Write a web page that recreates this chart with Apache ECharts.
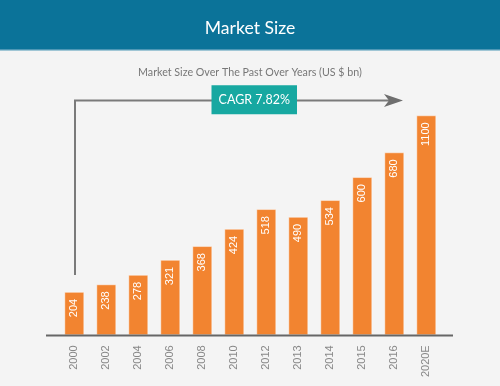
<!DOCTYPE html>
<html>
<head>
<meta charset="utf-8">
<script src="https://cdn.jsdelivr.net/npm/echarts@6/dist/echarts.min.js"></script>
<style>
html,body{margin:0;padding:0;background:#f4f4f4;}
#chart{width:500px;height:386px;}
</style>
</head>
<body>
<div id="chart"></div>
<script>
// Data
const categories = ['2000','2002','2004','2006','2008','2010','2012','2013','2014','2015','2016','2020E'];
const marketSize = [204, 238, 278, 321, 368, 424, 518, 490, 534, 600, 680, 1100];
// The reference draws its bars not to scale; these are the bar heights as drawn (same units as the labels, approx.)
const drawnHeights = [174, 204, 242, 302, 357, 426, 505, 474, 541, 633, 732, 880];
const titleText = 'Market Size';
const subtitleText = 'Market Size Over The Past Over Years (US $ bn)';
const cagrText = 'CAGR 7.82%';

const chart = echarts.init(document.getElementById('chart'), null, {renderer: 'canvas'});
const FONT = 'Lato';

chart.setOption({
  backgroundColor: '#f4f4f4',
  animation: false,
  title: [
    {text: titleText, left: 'center', top: 14,
     textStyle: {color: '#ffffff', fontSize: 17.6, fontWeight: 'normal', fontFamily: FONT}},
    {text: subtitleText, left: 'center', top: 62,
     textStyle: {color: '#777777', fontSize: 10.7, fontWeight: 'normal', fontFamily: FONT}}
  ],
  grid: {left: 58.3, right: 57.7, top: 85.3, bottom: 50.7},
  xAxis: {
    type: 'category',
    data: categories,
    axisLine: {show: false},
    axisTick: {show: false},
    axisLabel: {rotate: 90, margin: 10, color: '#888888', fontSize: 11, fontFamily: 'Liberation Sans'}
  },
  yAxis: {type: 'value', min: 0, max: 1000, show: false, splitLine: {show: false}},
  series: [{
    type: 'bar',
    data: drawnHeights,
    barWidth: 20,
    itemStyle: {color: '#f28430', borderColor: 'rgba(255,255,255,0.45)', borderWidth: 1},
    label: {
      show: true,
      position: 'insideTop',
      rotate: 90,
      align: 'right',
      verticalAlign: 'middle',
      distance: 7,
      color: '#ffffff',
      fontSize: 11,
      fontFamily: 'Liberation Sans',
      formatter: p => String(marketSize[p.dataIndex])
    }
  }],
  graphic: [
    {type: 'rect', shape: {x: 0, y: 0, width: 500, height: 50}, style: {fill: '#0b7399'}, z: -1},
    {type: 'rect', shape: {x: 0, y: 49, width: 500, height: 1.5}, style: {fill: '#4d97b5'}, z: -1},
    {type: 'line', shape: {x1: 46, y1: 335.5, x2: 453, y2: 335.5}, style: {stroke: '#666666', lineWidth: 2}, z: 10},
    {type: 'polyline', shape: {points: [[75, 275], [75, 100.5], [392, 100.5]]},
     style: {stroke: '#7a7a7a', lineWidth: 2, fill: null}, z: 5},
    {type: 'polygon', shape: {points: [[384, 94], [403, 100.5], [384, 107], [389, 100.5]]},
     style: {fill: '#6e6e6e'}, z: 5},
    {type: 'rect', shape: {x: 211.5, y: 85.3, width: 85.5, height: 29}, style: {fill: '#17a8a1'}, z: 6},
    {type: 'text', x: 254.3, y: 100, z: 7,
     style: {text: cagrText, fill: '#ffffff', fontSize: 12.5, fontFamily: FONT, align: 'center', verticalAlign: 'middle'}}
  ]
});
</script>
</body>
</html>
